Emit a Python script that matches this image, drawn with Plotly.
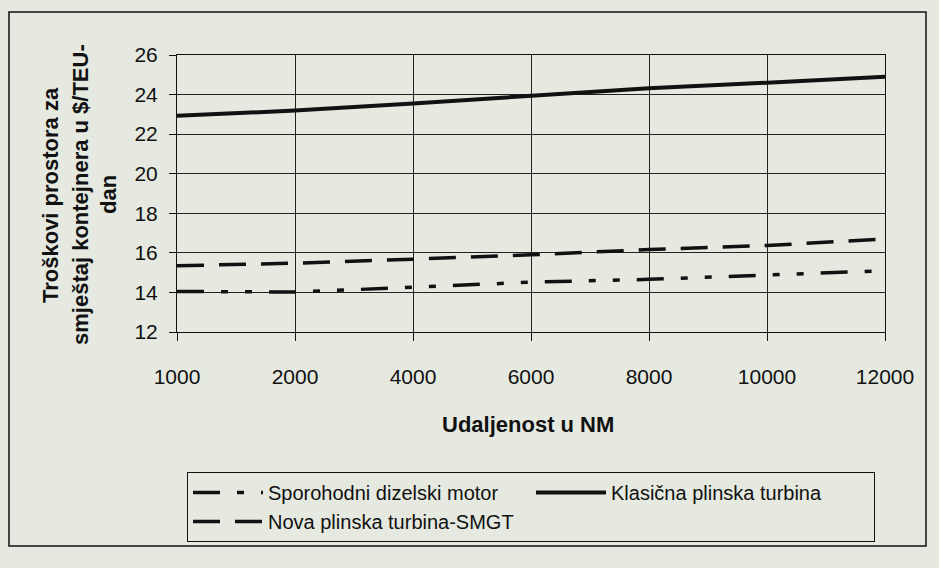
import plotly.graph_objects as go

# ---- data ----
distances = ["1000", "2000", "4000", "6000", "8000", "10000", "12000"]
sporohodni = [14.05, 14.02, 14.26, 14.52, 14.66, 14.90, 15.10]
klasicna = [22.93, 23.19, 23.55, 23.95, 24.32, 24.60, 24.90]
nova_smgt = [15.35, 15.48, 15.68, 15.90, 16.17, 16.37, 16.70]

series_names = ["Sporohodni dizelski motor", "Klasična plinska turbina", "Nova plinska turbina-SMGT"]
y_title_lines = ["Troškovi prostora za", "smještaj kontejnera u $/TEU-", "dan"]
x_title = "Udaljenost u NM"
y_ticks = [12, 14, 16, 18, 20, 22, 24, 26]

# ---- styling ----
BG = "#e5e9e0"
INK = "#111111"
FONT = "Liberation Sans, Arial, sans-serif"
W, H = 939, 568
L, R, T, B = 177, 54, 55, 236
PW, PH = W - L - R, H - T - B


def px_x(px):
    return (px - L) / PW


def px_y(py):
    return (H - B - py) / PH


fig = go.Figure()
fig.add_trace(go.Scatter(x=distances, y=sporohodni, mode="lines", name=series_names[0],
                         line=dict(color=INK, width=3.5, dash="27px,17px,7px,17px,7px,17px")))
fig.add_trace(go.Scatter(x=distances, y=klasicna, mode="lines", name=series_names[1],
                         line=dict(color=INK, width=4)))
fig.add_trace(go.Scatter(x=distances, y=nova_smgt, mode="lines", name=series_names[2],
                         line=dict(color=INK, width=3.5, dash="27px,15px")))

fig.update_layout(
    width=W, height=H,
    margin=dict(l=L, r=R, t=T, b=B, autoexpand=False),
    paper_bgcolor=BG, plot_bgcolor=BG,
    font=dict(family=FONT, color=INK, size=20),
    showlegend=True,
    legend=dict(
        orientation="h", x=px_x(187), y=px_y(472), xanchor="left", yanchor="top",
        bgcolor=BG, bordercolor=INK, borderwidth=1,
        entrywidth=258, entrywidthmode="pixels", itemwidth=70,
        font=dict(family=FONT, size=20, color=INK),
        traceorder="normal",
    ),
    xaxis=dict(
        type="category", range=[0, 6],
        showgrid=True, gridcolor="#222222", gridwidth=1,
        showline=True, linecolor=INK, linewidth=1, mirror=True,
        ticks="outside", ticklen=8, tickcolor=INK,
        ticklabelstandoff=18,
        tickfont=dict(family=FONT, size=21, color=INK),
        zeroline=False,
    ),
    yaxis=dict(
        range=[12, 26], tickmode="array", tickvals=y_ticks,
        showgrid=True, gridcolor="#222222", gridwidth=1,
        showline=True, linecolor=INK, linewidth=1, mirror=True,
        ticks="outside", ticklen=7, tickcolor=INK,
        ticklabelstandoff=7,
        tickfont=dict(family=FONT, size=21, color=INK),
        zeroline=False,
    ),
)

# axis titles
fig.add_annotation(text="<b>" + x_title + "</b>", xref="paper", yref="paper",
                   x=px_x(528), y=px_y(425), showarrow=False,
                   xanchor="center", yanchor="middle",
                   font=dict(family=FONT, size=22, color=INK))
for xp, line in zip([50, 80, 108], y_title_lines):
    fig.add_annotation(text="<b>" + line + "</b>", xref="paper", yref="paper",
                       x=px_x(xp), y=px_y(195), showarrow=False, textangle=-90,
                       xanchor="center", yanchor="middle",
                       font=dict(family=FONT, size=22, color=INK))

# outer chart frame
fig.add_shape(type="rect", xref="paper", yref="paper",
              x0=px_x(9), x1=px_x(926), y0=px_y(546), y1=px_y(12),
              line=dict(color=INK, width=1.5), fillcolor="rgba(0,0,0,0)", layer="below")

fig.write_html(
    "out.html",
    config={"displayModeBar": False},
    post_script="document.body.style.margin='0px';document.body.style.background='" + BG + "';",
)
